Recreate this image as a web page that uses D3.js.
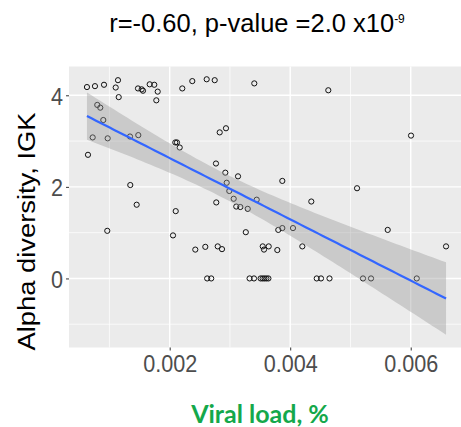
<!DOCTYPE html>
<html><head><meta charset="utf-8">
<script src="https://cdn.jsdelivr.net/npm/d3@7"></script>
<style>body{margin:0;background:#fff;overflow:hidden}</style>
</head><body>
<script>
// Viral load (%) per sample
const viralLoad = [
  0.000627,0.000760,0.000910,0.001142,0.001104,0.001154,0.001474,0.001535,0.001557,0.001668,
  0.001744,0.001801,0.001778,0.002209,0.002375,0.000798,0.000848,0.000898,0.000722,0.000971,
  0.001341,0.001479,0.002093,0.002121,0.002166,0.000644,0.001346,0.001452,0.002100,0.002614,
  0.002747,0.003404,0.004632,0.002830,0.002934,0.002768,0.002923,0.003134,0.002946,0.002989,
  0.003869,0.002773,0.003062,0.003444,0.003105,0.003172,0.003295,0.004350,0.006005,0.005109,
  0.000964,0.002055,0.002425,0.002591,0.002797,0.002868,0.002622,0.002689,0.003263,0.003326,
  0.003399,0.003509,0.003542,0.003573,0.003605,0.003638,0.003802,0.003869,0.004046,0.003544,
  0.003565,0.003643,0.003786,0.004201,0.004440,0.004511,0.004652,0.005208,0.005341,0.005618,
  0.006100,0.006586
];
// Alpha diversity (IGK) per sample
const alphaDiversity = [
  4.18,4.20,4.23,4.33,4.17,3.96,4.15,4.13,4.10,4.24,
  4.23,4.08,3.89,4.15,4.31,3.79,3.73,3.46,3.08,3.06,
  3.10,3.13,2.97,2.97,2.86,2.70,2.04,1.61,1.47,4.35,
  4.33,4.26,4.11,3.19,3.28,2.51,2.31,2.23,2.09,1.91,
  2.13,1.66,1.74,1.72,1.57,1.56,1.52,1.68,3.12,1.97,
  1.04,0.94,0.63,0.69,0.70,0.64,0.00,0.00,1.01,0.00,
  0.00,0.00,0.00,0.00,0.00,0.00,1.06,1.10,1.10,0.70,
  0.63,0.70,0.62,0.70,0.00,0.00,0.00,0.00,0.00,1.06,
  0.00,0.70
];
const xTickValues = [0.002, 0.004, 0.006];
const xTickLabels = ["0.002", "0.004", "0.006"];
const yTickValues = [0, 2, 4];
const yTickLabels = ["0", "2", "4"];
const titleMain = "r=-0.60, p-value =2.0 x10";
const titleSup = "-9";
const xTitle = "Viral load, %";
const yTitle = "Alpha diversity, IGK";

const W = 461, H = 427;
const svg = d3.select("body").append("svg").attr("width", W).attr("height", H);
const pLeft = 69, pRight = 464, pTop = 66.5, pBottom = 347.5;
const stretch = 1.14;

// linear model fit (like geom_smooth(method="lm"))
const n = viralLoad.length;
const mx = d3.mean(viralLoad), my = d3.mean(alphaDiversity);
let sxx = 0, sxy = 0;
for (let i = 0; i < n; i++) { sxx += (viralLoad[i]-mx)**2; sxy += (viralLoad[i]-mx)*(alphaDiversity[i]-my); }
const slope = sxy/sxx, icpt = my - slope*mx;
let sse = 0;
for (let i = 0; i < n; i++) { sse += (alphaDiversity[i] - icpt - slope*viralLoad[i])**2; }
const sres = Math.sqrt(sse/(n-2));
const tq = 1.990;
const [xmin, xmax] = d3.extent(viralLoad);
const fit = d3.range(80).map(i => {
  const xv = xmin + (xmax-xmin)*i/79;
  const yh = icpt + slope*xv;
  const se = sres*Math.sqrt(1/n + (xv-mx)**2/sxx);
  return {x: xv, y: yh, lo: yh - tq*se, hi: yh + tq*se};
});

const xPad = 0.05*(xmax-xmin);
const x = d3.scaleLinear().domain([xmin-xPad, xmax+xPad]).range([pLeft, pRight]);
const yLo = Math.min(d3.min(alphaDiversity), d3.min(fit, d => d.lo));
const yHi = Math.max(d3.max(alphaDiversity), d3.max(fit, d => d.hi));
const yPad = 0.05*(yHi-yLo);
const y = d3.scaleLinear().domain([yLo-yPad, yHi+yPad]).range([pBottom, pTop]);

// panel
svg.append("rect").attr("x", pLeft).attr("y", pTop).attr("width", pRight-pLeft).attr("height", pBottom-pTop).attr("fill", "#EBEBEB");
const g = svg.append("g");
function minors(ticks, dom) {
  const step = ticks[1]-ticks[0];
  const out = [];
  for (let k = -2; k <= ticks.length + 1; k++) {
    const v = ticks[0] + step*(k - 0.5);
    if (v >= dom[0] && v <= dom[1]) out.push(v);
  }
  return out;
}
minors(xTickValues, x.domain()).forEach(v => g.append("line").attr("x1", x(v)).attr("x2", x(v)).attr("y1", pTop).attr("y2", pBottom).attr("stroke", "#fff").attr("stroke-width", 0.7));
minors(yTickValues, y.domain()).forEach(v => g.append("line").attr("x1", pLeft).attr("x2", pRight).attr("y1", y(v)).attr("y2", y(v)).attr("stroke", "#fff").attr("stroke-width", 0.7));
xTickValues.forEach(v => g.append("line").attr("x1", x(v)).attr("x2", x(v)).attr("y1", pTop).attr("y2", pBottom).attr("stroke", "#fff").attr("stroke-width", 1.4));
yTickValues.forEach(v => g.append("line").attr("x1", pLeft).attr("x2", pRight).attr("y1", y(v)).attr("y2", y(v)).attr("stroke", "#fff").attr("stroke-width", 1.4));

// points
svg.append("g").selectAll("circle").data(viralLoad).join("circle")
  .attr("cx", d => x(d)).attr("cy", (d, i) => y(alphaDiversity[i])).attr("r", 2.6)
  .attr("fill", "none").attr("stroke", "#111").attr("stroke-width", 1);

// band + line
svg.append("path").datum(fit).attr("fill", "#999").attr("fill-opacity", 0.4)
  .attr("d", d3.area().x(d => x(d.x)).y0(d => y(d.lo)).y1(d => y(d.hi)));
svg.append("path").datum(fit).attr("fill", "none").attr("stroke", "#3366FF").attr("stroke-width", 2.2)
  .attr("d", d3.line().x(d => x(d.x)).y(d => y(d.y)));

// axes
const font = "'Liberation Sans', Arial, sans-serif";
const xAxis = svg.append("g").attr("transform", `translate(0,${pBottom})`)
  .call(d3.axisBottom(x).tickValues(xTickValues).tickFormat((d, i) => xTickLabels[i]).tickSize(3));
xAxis.select(".domain").remove();
xAxis.selectAll(".tick line").attr("stroke", "#333").attr("stroke-width", 1);
xAxis.selectAll(".tick text").attr("fill", "#4D4D4D").attr("font-family", font).attr("font-size", 21.6)
  .attr("dy", 0).attr("y", 24.2/stretch).attr("transform", `scale(1,${stretch})`);

const yAxis = svg.append("g").attr("transform", `translate(${pLeft},0)`)
  .call(d3.axisLeft(y).tickValues(yTickValues).tickFormat((d, i) => yTickLabels[i]).tickSize(3));
yAxis.select(".domain").remove();
yAxis.selectAll(".tick line").attr("stroke", "#333").attr("stroke-width", 1);
yAxis.selectAll(".tick text").attr("fill", "#4D4D4D").attr("font-family", font).attr("font-size", 21.6)
  .attr("dy", 0).attr("x", -6).attr("y", 8.8/stretch).attr("transform", `scale(1,${stretch})`);

// title
const t = svg.append("text").attr("x", 257).attr("y", 31.7).attr("text-anchor", "middle")
  .attr("font-family", font).attr("font-size", 25.5).attr("fill", "#000");
t.append("tspan").text(titleMain);
t.append("tspan").attr("font-size", 12).attr("dy", -8.5).text(titleSup);

// y title
svg.append("text").attr("transform", `translate(35,231.5) rotate(-90) scale(${stretch},1)`)
  .attr("text-anchor", "middle").attr("font-family", font).attr("font-size", 24).attr("fill", "#000")
  .text(yTitle);

// x title
svg.append("text").attr("x", 260).attr("y", 423).attr("text-anchor", "middle")
  .attr("font-family", "Lato, 'Open Sans', sans-serif").attr("font-weight", "bold").attr("font-size", 25)
  .attr("fill", "#14A84B").text(xTitle);
</script>
</body></html>
